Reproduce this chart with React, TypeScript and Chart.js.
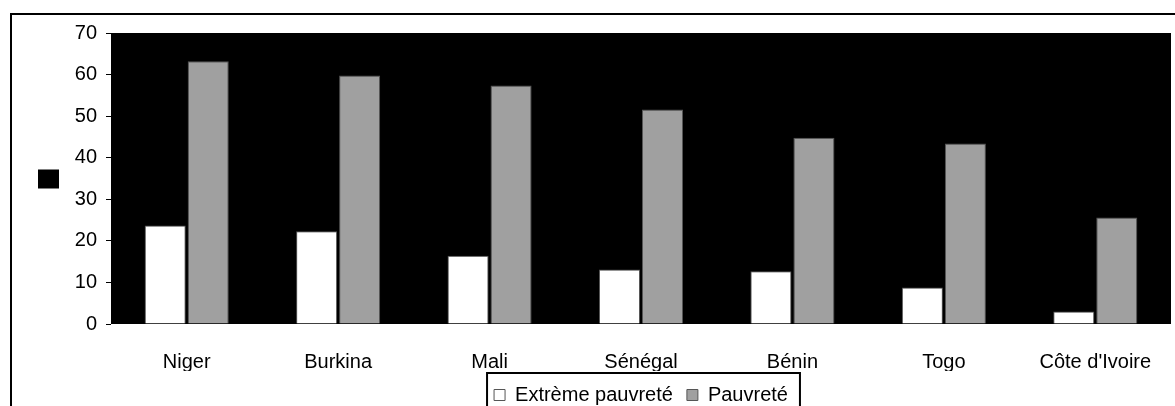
import React, { useEffect, useRef } from 'react';
import { Chart, registerables } from 'chart.js';

Chart.register(...registerables);

const categories = ['Niger', 'Burkina', 'Mali', 'Sénégal', 'Bénin', 'Togo', "Côte d'Ivoire"];
const seriesLabels = ['Extrème pauvreté', 'Pauvreté'];
const extremePoverty = [23.7, 22.3, 16.4, 13.1, 12.7, 8.8, 3.0];
const poverty = [63.2, 59.8, 57.4, 51.6, 44.8, 43.4, 25.6];
const yTicks = [0, 10, 20, 30, 40, 50, 60, 70];

const FONT = "'Liberation Sans', Arial, Helvetica, sans-serif";

const plotBackground = {
  id: 'plotBackground',
  beforeDraw(chart: any) {
    const { ctx, chartArea } = chart;
    ctx.save();
    ctx.fillStyle = '#000';
    ctx.fillRect(chartArea.left, chartArea.top, chartArea.right - chartArea.left, chartArea.bottom - chartArea.top);
    // outer frame (left and top edges visible)
    ctx.strokeStyle = '#000';
    ctx.lineWidth = 2;
    ctx.beginPath();
    ctx.moveTo(11, chart.height + 2);
    ctx.lineTo(11, 14);
    ctx.lineTo(chart.width + 2, 14);
    ctx.stroke();
    // y-axis title placeholder box
    const cy = (chartArea.top + chartArea.bottom) / 2;
    ctx.fillRect(chartArea.left - 73, cy - 9, 21, 19);
    ctx.restore();
  },
};

const legendFrame = {
  id: 'legendFrame',
  afterDraw(chart: any) {
    const legend = chart.legend;
    if (!legend || !legend.legendHitBoxes || !legend.legendHitBoxes.length) return;
    const boxes = legend.legendHitBoxes;
    const first = boxes[0];
    const last = boxes[boxes.length - 1];
    const left = first.left - 7;
    const right = last.left + last.width + 12;
    const top = legend.top + 2;
    const { ctx } = chart;
    ctx.save();
    ctx.strokeStyle = '#000';
    ctx.lineWidth = 2;
    ctx.beginPath();
    ctx.moveTo(left, chart.height + 5);
    ctx.lineTo(left, top);
    ctx.lineTo(right, top);
    ctx.lineTo(right, chart.height + 5);
    ctx.stroke();
    ctx.restore();
  },
};

export default function App() {
  const canvasRef = useRef<HTMLCanvasElement | null>(null);

  useEffect(() => {
    if (!canvasRef.current) return;
    Chart.defaults.font.family = FONT;
    Chart.defaults.font.size = 20;
    Chart.defaults.color = '#000';

    const chart = new Chart(canvasRef.current, {
      type: 'bar',
      data: {
        labels: categories,
        datasets: [
          {
            label: seriesLabels[0],
            data: extremePoverty,
            backgroundColor: '#ffffff',
            borderColor: '#555555',
            borderWidth: 1,
            categoryPercentage: 0.568,
            barPercentage: 0.955,
          },
          {
            label: seriesLabels[1],
            data: poverty,
            backgroundColor: '#a0a0a0',
            borderColor: '#555555',
            borderWidth: 1,
            categoryPercentage: 0.568,
            barPercentage: 0.955,
          },
        ],
      },
      options: {
        responsive: false,
        animation: false,
        devicePixelRatio: 1,
        layout: { padding: { left: 0, top: 33, right: 4, bottom: -9 } },
        plugins: {
          tooltip: { enabled: false },
          legend: {
            position: 'bottom',
            fullSize: false,
            labels: {
              boxWidth: 11,
              boxHeight: 11,
              padding: 14,
              color: '#000',
              font: { family: FONT, size: 20 },
            },
          },
        },
        scales: {
          x: {
            grid: { display: false },
            border: { display: false },
            ticks: { padding: 18, color: '#000', font: { family: FONT, size: 20 }, maxRotation: 0, autoSkip: false },
            afterFit: (scale: any) => { scale.height = 47; },
          },
          y: {
            min: 0,
            max: 70,
            grid: { drawOnChartArea: false, drawTicks: true, tickLength: 5, color: '#000', lineWidth: 1 },
            border: { display: false },
            ticks: { padding: 9, color: '#000', font: { family: FONT, size: 20 } },
            afterBuildTicks: (scale: any) => { scale.ticks = yTicks.map((v) => ({ value: v })); },
            afterFit: (scale: any) => { scale.width = 111; },
          },
        },
      },
      plugins: [plotBackground, legendFrame],
    } as any);

    return () => chart.destroy();
  }, []);

  return (
    <div style={{ position: 'absolute', left: 0, top: 0, width: 1175, height: 406, overflow: 'hidden', background: '#fff' }}>
      <canvas ref={canvasRef} width={1175} height={406} style={{ display: 'block', width: 1175, height: 406 }} />
    </div>
  );
}
